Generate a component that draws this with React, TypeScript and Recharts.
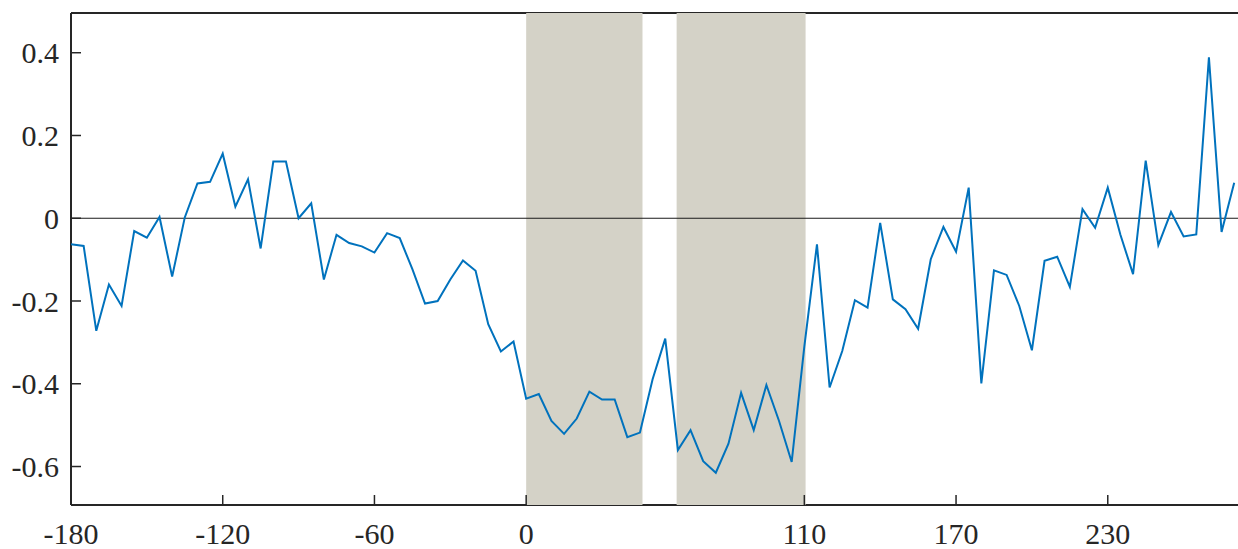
import React from 'react';
import { LineChart, Line, XAxis, YAxis, ReferenceArea, ReferenceLine } from 'recharts';

// Lag positions (x) and the measured series at each lag
const lags = [
  -180, -175, -170, -165, -160, -155, -150, -145, -140, -135,
  -130, -125, -120, -115, -110, -105, -100, -95, -90, -85,
  -80, -75, -70, -65, -60, -55, -50, -45, -40, -35,
  -30, -25, -20, -15, -10, -5, 0, 5, 10, 15,
  20, 25, 30, 35, 40, 45, 50, 55, 60, 65,
  70, 75, 80, 85, 90, 95, 100, 105, 110, 115,
  120, 125, 130, 135, 140, 145, 150, 155, 160, 165,
  170, 175, 180, 185, 190, 195, 200, 205, 210, 215,
  220, 225, 230, 235, 240, 245, 250, 255, 260, 265,
  270, 275, 280,
];

const values = [
  -0.063, -0.067, -0.272, -0.16, -0.212, -0.031, -0.047, 0.003, -0.141, 0.002,
  0.084, 0.088, 0.156, 0.028, 0.094, -0.073, 0.137, 0.137, 0.0, 0.036,
  -0.148, -0.04, -0.06, -0.068, -0.083, -0.036, -0.048, -0.123, -0.206, -0.2,
  -0.148, -0.102, -0.127, -0.256, -0.322, -0.298, -0.436, -0.425, -0.49, -0.521,
  -0.484, -0.419, -0.438, -0.438, -0.529, -0.518, -0.389, -0.291, -0.56, -0.512,
  -0.587, -0.615, -0.545, -0.422, -0.512, -0.403, -0.49, -0.589, -0.31, -0.063,
  -0.409, -0.321, -0.198, -0.216, -0.011, -0.196, -0.22, -0.267, -0.099, -0.021,
  -0.081, 0.074, -0.399, -0.126, -0.137, -0.212, -0.319, -0.103, -0.093, -0.166,
  0.022, -0.023, 0.074, -0.04, -0.135, 0.139, -0.065, 0.015, -0.044, -0.039,
  0.389, -0.033, 0.086,
];

const xTicks = [-180, -120, -60, 0, 110, 170, 230];
const yTicks = [-0.6, -0.4, -0.2, 0, 0.2, 0.4];

// Shaded windows [start, end] on the lag axis
const windowStarts = [0, 59.5];
const windowEnds = [46, 110.5];

const xDomain = [-180, 281.5];
const yDomain = [-0.693, 0.496];

const data = lags.map((x, i) => ({ x, y: values[i] }));

const INK = '#262626';
const labelStyle = { fontFamily: "'Liberation Serif', 'Times New Roman', serif", fontSize: 30 };

function XTick(props: any) {
  const { x, y, payload } = props;
  return (
    <g>
      <line x1={x} y1={y} x2={x} y2={y - 10} stroke={INK} strokeWidth={1.5} />
      <text x={x} y={y + 39} textAnchor="middle" style={labelStyle} fill={INK}>
        {String(payload.value)}
      </text>
    </g>
  );
}

function YTick(props: any) {
  const { x, y, payload } = props;
  return (
    <g>
      <line x1={x} y1={y} x2={x + 10} y2={y} stroke={INK} strokeWidth={1.5} />
      <text x={x - 12} y={y + 10.5} textAnchor="end" style={labelStyle} fill={INK}>
        {String(payload.value)}
      </text>
    </g>
  );
}

export default function App() {
  return (
    <div style={{ position: 'absolute', left: 0, top: 0, width: 1238, height: 549, background: '#ffffff' }}>
      <LineChart width={1238} height={549} data={data} margin={{ top: 13, right: 0, bottom: 0, left: 0 }}>
        <XAxis
          dataKey="x"
          type="number"
          domain={xDomain}
          allowDataOverflow
          ticks={xTicks}
          interval={0}
          tickLine={false}
          tickSize={0}
          tickMargin={0}
          tick={XTick}
          axisLine={{ stroke: INK, strokeWidth: 2 }}
          height={44}
        />
        <YAxis
          type="number"
          domain={yDomain}
          allowDataOverflow
          ticks={yTicks}
          interval={0}
          tickLine={false}
          tickSize={0}
          tickMargin={0}
          tick={YTick}
          axisLine={{ stroke: INK, strokeWidth: 2 }}
          width={71}
        />
        <ReferenceLine y={yDomain[1]} stroke={INK} strokeWidth={2} zIndex={500} />
        {windowStarts.map((s, i) => (
          <ReferenceArea
            key={i}
            x1={s}
            x2={windowEnds[i]}
            fill="#d4d2c7"
            fillOpacity={1}
            stroke="none"
            zIndex={550}
          />
        ))}
        <ReferenceLine y={0} stroke="#1a1a1a" strokeWidth={1.2} zIndex={600} />
        <Line
          type="linear"
          dataKey="y"
          stroke="#0072BD"
          strokeWidth={2}
          dot={false}
          isAnimationActive={false}
          zIndex={700}
        />
      </LineChart>
    </div>
  );
}
